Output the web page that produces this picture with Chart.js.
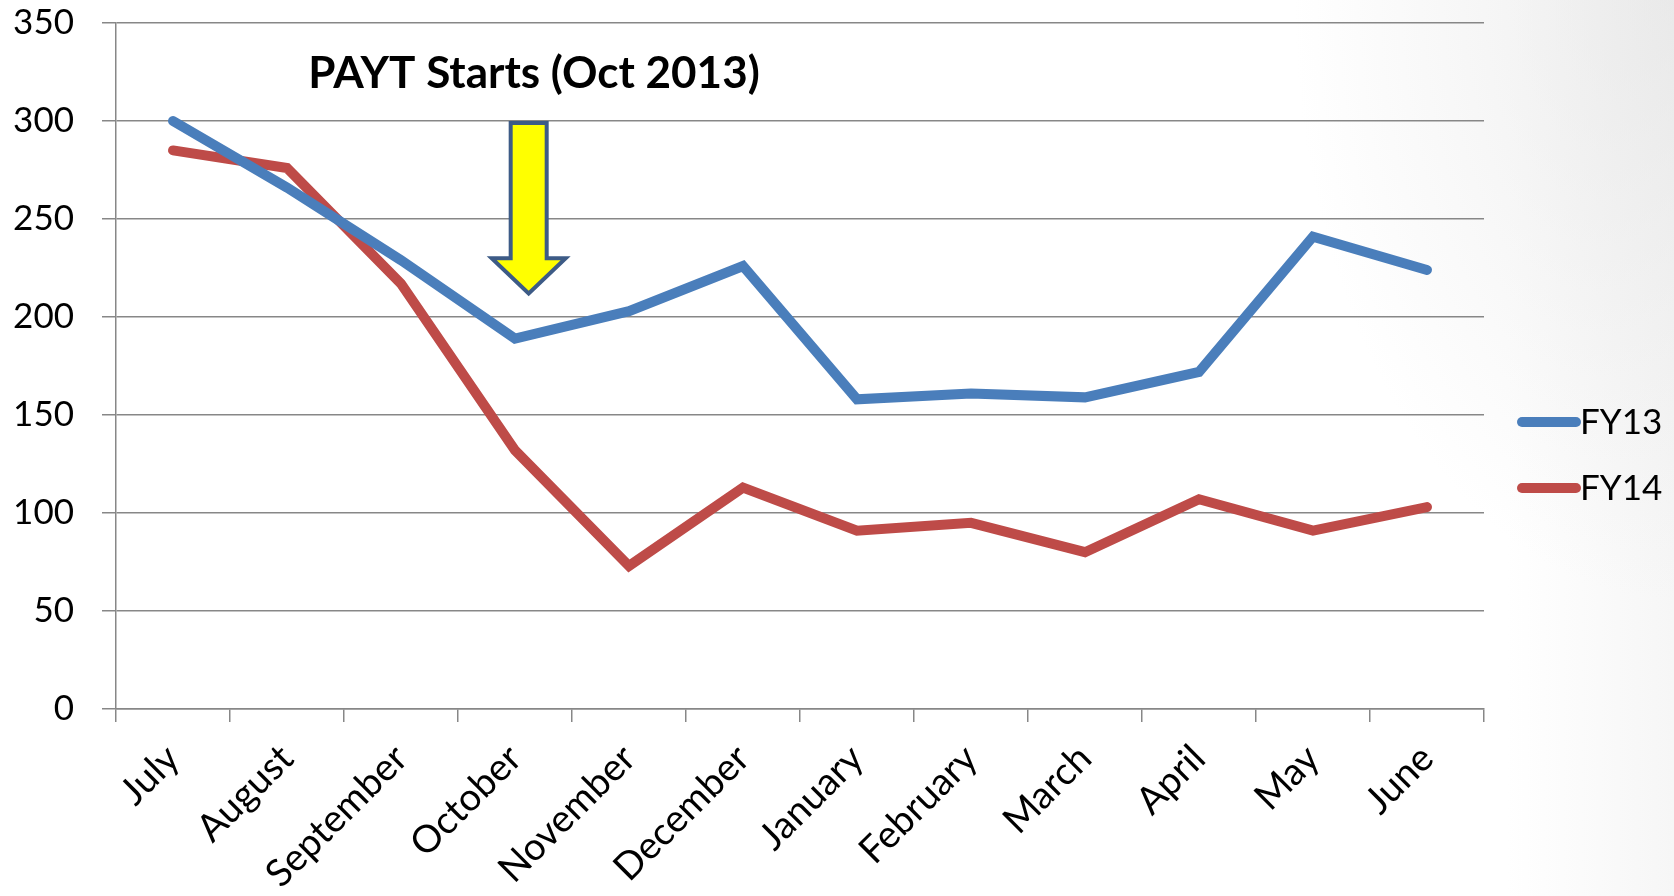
<!DOCTYPE html>
<html>
<head>
<meta charset="utf-8">
<script src="https://cdn.jsdelivr.net/npm/chart.js@4.4.1/dist/chart.umd.min.js"></script>
<style>
  html, body { margin: 0; padding: 0; }
  body {
    width: 1674px; height: 896px; overflow: hidden;
    background:
      radial-gradient(ellipse 380px 600px at 100% 0%, rgba(225,225,225,0.6), rgba(255,255,255,0) 100%),
      linear-gradient(to right, #fff 90%, #f6f6f6 100%);
  }
  canvas { display: block; }
</style>
</head>
<body>
<canvas id="chart" width="1674" height="896"></canvas>
<script>
// Monthly values
const months = ['July', 'August', 'September', 'October', 'November', 'December',
                'January', 'February', 'March', 'April', 'May', 'June'];
const fy13 = [300, 266, 229, 189, 203, 226, 158, 161, 159, 172, 241, 224];
const fy14 = [285, 276, 217, 132, 73, 113, 91, 95, 80, 107, 91, 103];
const yMin = 0, yMax = 350, yStep = 50;

const gridColor = '#878787';
const fontFamily = 'Lato, "Open Sans", sans-serif';

// Title text and the yellow arrow that points at October
const annotationPlugin = {
  id: 'payt',
  afterDatasetsDraw(chart) {
    const ctx = chart.ctx;
    const x = chart.scales.x, y = chart.scales.y;
    const cat = x.getPixelForValue(1) - x.getPixelForValue(0);
    const cx = x.getPixelForValue(3) + cat * 0.12;
    const top = y.getPixelForValue(299);
    const headY = y.getPixelForValue(230);
    const tip = y.getPixelForValue(212);
    const shaft = 18, head = 37;

    ctx.save();
    ctx.beginPath();
    ctx.moveTo(cx - shaft, top);
    ctx.lineTo(cx + shaft, top);
    ctx.lineTo(cx + shaft, headY);
    ctx.lineTo(cx + head, headY);
    ctx.lineTo(cx, tip);
    ctx.lineTo(cx - head, headY);
    ctx.lineTo(cx - shaft, headY);
    ctx.closePath();
    ctx.fillStyle = '#FFFF00';
    ctx.fill();
    ctx.lineWidth = 4;
    ctx.lineJoin = 'miter';
    ctx.strokeStyle = '#3D5B86';
    ctx.stroke();

    ctx.fillStyle = '#000';
    ctx.font = 'bold 44px ' + fontFamily;
    ctx.textAlign = 'center';
    ctx.textBaseline = 'alphabetic';
    ctx.fillText('PAYT Starts (Oct 2013)', 534, 88);
    ctx.restore();
  }
};

// Legend drawn as Excel does: thick line then label right after it
const legendPlugin = {
  id: 'lineLegend',
  afterDraw(chart) {
    const ctx = chart.ctx;
    const x0 = 1522, x1 = 1576;
    const rows = [422, 488];
    ctx.save();
    chart.data.datasets.forEach((ds, i) => {
      ctx.beginPath();
      ctx.moveTo(x0, rows[i]);
      ctx.lineTo(x1, rows[i]);
      ctx.lineWidth = 10;
      ctx.lineCap = 'round';
      ctx.strokeStyle = ds.borderColor;
      ctx.stroke();
      ctx.fillStyle = '#000';
      ctx.font = '35px ' + fontFamily;
      ctx.textAlign = 'left';
      ctx.textBaseline = 'middle';
      ctx.fillText(ds.label, x1 + 4, rows[i] + 1);
    });
    ctx.restore();
  }
};

new Chart(document.getElementById('chart'), {
  type: 'line',
  data: {
    labels: months,
    datasets: [
      {
        label: 'FY13',
        data: fy13,
        borderColor: '#4A7EBB',
        borderWidth: 10,
        borderCapStyle: 'round',
        borderJoinStyle: 'miter',
        pointRadius: 0,
        tension: 0,
        fill: false
      },
      {
        label: 'FY14',
        data: fy14,
        borderColor: '#BE4B48',
        borderWidth: 10,
        borderCapStyle: 'round',
        borderJoinStyle: 'miter',
        pointRadius: 0,
        tension: 0,
        fill: false
      }
    ]
  },
  options: {
    responsive: false,
    animation: false,
    layout: { padding: { left: 0, right: 190, top: 0, bottom: 0 } },
    plugins: {
      legend: { display: false },
      tooltip: { enabled: false }
    },
    scales: {
      x: {
        offset: true,
        afterFit(scale) { scale.height = 187; },
        grid: {
          offset: true,
          drawOnChartArea: false,
          drawTicks: true,
          tickLength: 13,
          color: gridColor,
          lineWidth: 1.5
        },
        border: { display: true, color: gridColor, width: 1.5 },
        ticks: {
          color: '#000',
          font: { family: fontFamily, size: 38 },
          minRotation: 45,
          maxRotation: 45,
          autoSkip: false,
          padding: 14
        }
      },
      y: {
        min: yMin,
        max: yMax,
        afterFit(scale) { scale.width = 116; scale.paddingTop = 23; },
        grid: {
          color: gridColor,
          lineWidth: 1.5,
          tickLength: 14
        },
        border: { display: true, color: gridColor, width: 1.5 },
        ticks: {
          stepSize: yStep,
          color: '#000',
          font: { family: fontFamily, size: 35 },
          padding: 28
        }
      }
    }
  },
  plugins: [annotationPlugin, legendPlugin]
});
</script>
</body>
</html>
